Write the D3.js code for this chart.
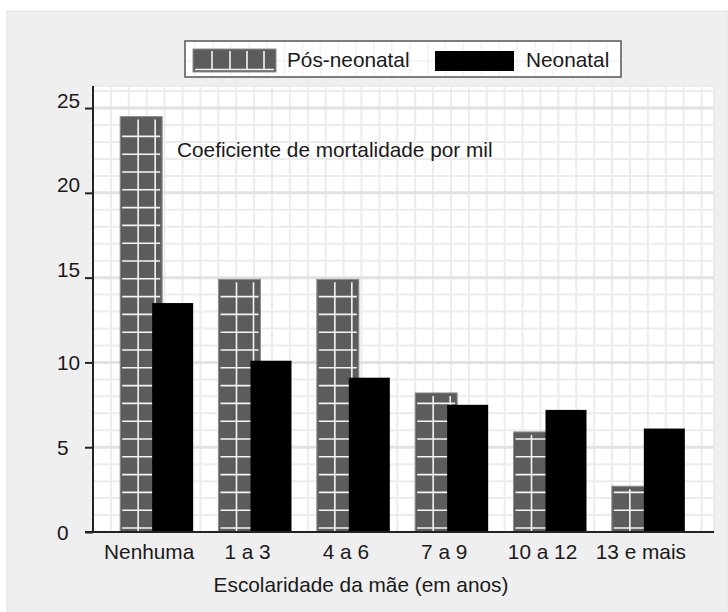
<!DOCTYPE html>
<html><head><meta charset="utf-8">
<script src="https://cdn.jsdelivr.net/npm/d3@7"></script>
<style>
body{margin:0;background:#fff;}
svg{display:block;font-family:"Liberation Sans",Arial,Helvetica,sans-serif;}
</style>
</head><body>
<script>
const categories = ["Nenhuma", "1 a 3", "4 a 6", "7 a 9", "10 a 12", "13 e mais"];
const posNeonatal = [24.5, 14.9, 14.9, 8.2, 5.9, 2.7];
const neonatal = [13.5, 10.1, 9.1, 7.5, 7.2, 6.1];
const yTicks = [0, 5, 10, 15, 20, 25];
const seriesNames = ["Pós-neonatal", "Neonatal"];
const annotation = "Coeficiente de mortalidade por mil";
const xTitle = "Escolaridade da mãe (em anos)";

const W = 728, H = 612;
const plot = {left: 93, right: 714, top: 86, bottom: 532};
const FS = "20.8px";
const txt = "#1a1a1a";

const svg = d3.select("body").append("svg").attr("width", W).attr("height", H);
svg.append("rect").attr("x", 7).attr("y", 11).attr("width", W - 7).attr("height", H - 11)
  .attr("fill", "#efefef").attr("stroke", "#e2e2e2");

const y = d3.scaleLinear().domain([0, 26.3]).range([plot.bottom, plot.top]);
const x = d3.scaleBand().domain(categories).range([100, 690]).padding(0);

// plot background
svg.append("rect").attr("x", plot.left).attr("y", plot.top)
  .attr("width", plot.right - plot.left).attr("height", plot.bottom - plot.top)
  .attr("fill", "#fff").attr("stroke", "#e6e6e6").attr("stroke-width", 1.5);

// grid
const grid = svg.append("g");
const vStep = 17.9;
grid.selectAll("line.v").data(d3.range(plot.left + vStep, plot.right - 2, vStep)).join("line")
  .attr("class", "v").attr("x1", d => d).attr("x2", d => d)
  .attr("y1", plot.top).attr("y2", plot.bottom)
  .attr("stroke", "#ececec").attr("stroke-width", 2);
grid.selectAll("line.h").data(d3.range(1, 27)).join("line")
  .attr("class", "h").attr("x1", plot.left).attr("x2", plot.right)
  .attr("y1", d => y(d)).attr("y2", d => y(d))
  .attr("stroke", d => d % 5 === 0 ? "#e2e2e2" : "#ececec")
  .attr("stroke-width", d => d % 5 === 0 ? 3 : 2);

// annotation
svg.append("text").attr("x", 177).attr("y", 157).attr("font-size", FS).attr("fill", txt).text(annotation);

// pattern bars
const bw = x.bandwidth();
const pg = svg.append("g").selectAll("g").data(categories.map((c, i) => ({c, v: posNeonatal[i]}))).join("g");
pg.append("rect")
  .attr("x", d => x(d.c) + bw / 2 - 29).attr("y", d => y(d.v))
  .attr("width", 42).attr("height", d => y(0) - y(d.v))
  .attr("fill", "#5c5c5c").attr("stroke", "#8e8e8e").attr("stroke-width", 1);
pg.each(function(d) {
  const g = d3.select(this);
  const x0 = x(d.c) + bw / 2 - 29;
  const top = y(d.v);
  [18, 35].forEach(o => {
    g.append("line").attr("x1", x0 + o).attr("x2", x0 + o)
      .attr("y1", top + 3).attr("y2", y(0))
      .attr("stroke", "#f4f4f4").attr("stroke-width", 1.6);
  });
  for (let yy = y(0) - 4; yy > top + 3; yy -= 17.8) {
    g.append("line").attr("x1", x0 + 2).attr("x2", x0 + 40)
      .attr("y1", yy).attr("y2", yy)
      .attr("stroke", "#f4f4f4").attr("stroke-width", 1.6);
  }
});

// black bars
svg.append("g").selectAll("rect").data(categories.map((c, i) => ({c, v: neonatal[i]}))).join("rect")
  .attr("x", d => x(d.c) + bw / 2 + 3).attr("y", d => y(d.v))
  .attr("width", 41).attr("height", d => y(0) - y(d.v))
  .attr("fill", "#000");

// axes
const ya = svg.append("g").attr("transform", `translate(${plot.left},0)`)
  .call(d3.axisLeft(y).tickValues(yTicks).tickSize(8).tickFormat(d3.format("d")));
ya.select(".domain").remove();
ya.selectAll(".tick line").attr("stroke", "#222").attr("stroke-width", 2);
ya.selectAll(".tick text").attr("x", 57 - plot.left).attr("text-anchor", "start")
  .attr("dy", d => d >= 15 ? "-0.05em" : "0.36em")
  .attr("font-size", FS).attr("font-family", null).attr("fill", txt);
svg.append("line").attr("x1", plot.left).attr("x2", plot.left).attr("y1", plot.top).attr("y2", plot.bottom)
  .attr("stroke", "#222").attr("stroke-width", 2);

const xa = svg.append("g").attr("transform", `translate(0,${plot.bottom})`)
  .call(d3.axisBottom(x).tickSize(0).tickPadding(0));
xa.select(".domain").remove();
xa.selectAll(".tick text").attr("y", 27).attr("dy", 0)
  .attr("font-size", FS).attr("font-family", null).attr("fill", txt);
svg.append("line").attr("x1", 85).attr("x2", plot.right).attr("y1", plot.bottom).attr("y2", plot.bottom)
  .attr("stroke", "#222").attr("stroke-width", 2);

svg.append("text").attr("x", 361).attr("y", 592).attr("text-anchor", "middle")
  .attr("font-size", FS).attr("fill", txt).text(xTitle);

// legend
const lg = svg.append("g");
lg.append("rect").attr("x", 185).attr("y", 41).attr("width", 436).attr("height", 36)
  .attr("fill", "#fff").attr("stroke", "#555").attr("stroke-width", 1.5);
lg.selectAll("line.lv").data(d3.range(195, 620, 17.9)).join("line")
  .attr("x1", d => d).attr("x2", d => d).attr("y1", 42).attr("y2", 76)
  .attr("stroke", "#f2f2f2").attr("stroke-width", 1.5);
lg.append("line").attr("x1", 186).attr("x2", 620).attr("y1", 61).attr("y2", 61)
  .attr("stroke", "#f2f2f2").attr("stroke-width", 1.5);
lg.append("rect").attr("x", 193).attr("y", 49).attr("width", 83).attr("height", 23)
  .attr("fill", "#5c5c5c").attr("stroke", "#8e8e8e").attr("stroke-width", 1);
[19, 37, 54, 71].forEach(o => lg.append("line").attr("x1", 193 + o).attr("x2", 193 + o)
  .attr("y1", 51).attr("y2", 70).attr("stroke", "#f4f4f4").attr("stroke-width", 1.6));
lg.append("line").attr("x1", 195).attr("x2", 274).attr("y1", 69.5).attr("y2", 69.5)
  .attr("stroke", "#f4f4f4").attr("stroke-width", 1.6);
lg.append("text").attr("x", 287).attr("y", 67).attr("font-size", FS).attr("fill", txt).text(seriesNames[0]);
lg.append("rect").attr("x", 435).attr("y", 51).attr("width", 79).attr("height", 20).attr("fill", "#000");
lg.append("text").attr("x", 526).attr("y", 67).attr("font-size", FS).attr("fill", txt).text(seriesNames[1]);
</script>
</body></html>
